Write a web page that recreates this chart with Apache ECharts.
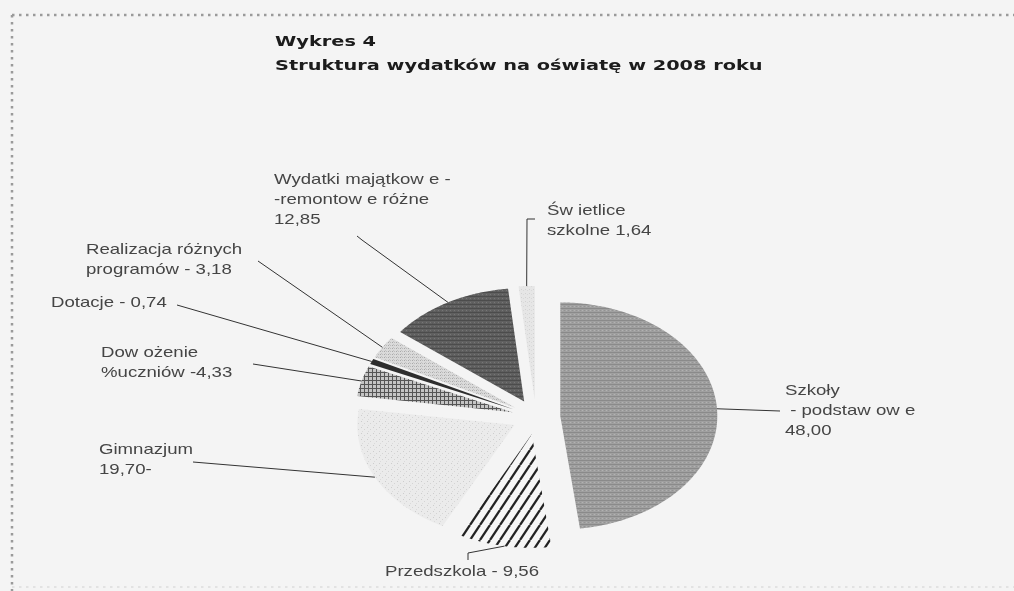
<!DOCTYPE html>
<html>
<head>
<meta charset="utf-8">
<script src="https://cdn.jsdelivr.net/npm/echarts@6/dist/echarts.min.js"></script>
<style>
html,body{margin:0;padding:0;background:#f4f4f4;}
#chart{width:1014px;height:591px;}
</style>
</head>
<body>
<div id="chart"></div>
<script>
// ---- data ----
const categories = ['Szkoły - podstawowe', 'Przedszkola', 'Gimnazjum', 'Dowożenie uczniów', 'Dotacje', 'Realizacja różnych programów', 'Wydatki majątkowe - remontowe różne', 'Świetlice szkolne'];
const values = [48.00, 9.56, 19.70, 4.33, 0.74, 3.18, 12.85, 1.64];
const labelTemplates = [
  'Szkoły\n - podstaw ow e\n{v}',
  'Przedszkola - {v}',
  'Gimnazjum\n{v}-',
  'Dow ożenie\n%uczniów -{v}',
  'Dotacje - {v}',
  'Realizacja różnych\nprogramów - {v}',
  'Wydatki majątkow e -\n-remontow e różne\n{v}',
  'Św ietlice\nszkolne {v}'
];
const titleLines = ['Wykres 4', 'Struktura wydatków na oświatę w 2008 roku'];

// ---- layout / style (pixel positions of labels and leader-line bends) ----
const labelLayout = [
  {x: 785, y: 381, bends: [[780, 411]]},
  {x: 385, y: 562, bends: [[468, 553], [468, 560]]},
  {x: 99,  y: 440, bends: [[193, 462]]},
  {x: 101, y: 343, bends: [[253, 364]]},
  {x: 51,  y: 293, bends: [[177, 305]]},
  {x: 86,  y: 240, bends: [[258, 261]]},
  {x: 274, y: 170, bends: [[362, 240], [357, 236]]},
  {x: 547, y: 201, bends: [[527, 219], [535, 219]]}
];
const EXPLODE = 0.155;

function makePattern(w, h, draw) {
  const c = document.createElement('canvas');
  c.width = w; c.height = h;
  const g = c.getContext('2d');
  draw(g, w, h);
  return {image: c, repeat: 'repeat'};
}
function px(g, x, y, col) { g.fillStyle = col; g.fillRect(x, y, 1, 1); }

const fills = [
  // Szkoły - medium gray fine grid texture
  makePattern(4, 4, function (g) {
    g.fillStyle = '#a0a0a0'; g.fillRect(0, 0, 4, 4);
    g.fillStyle = '#8a8a8a'; g.fillRect(0, 0, 4, 1);
    px(g, 2, 2, '#b2b2b2'); px(g, 0, 2, '#939393');
  }),
  // Przedszkola - diagonal black stripes
  makePattern(10, 15, function (g, w, h) {
    g.fillStyle = '#f6f6f6'; g.fillRect(0, 0, w, h);
    g.strokeStyle = '#222222'; g.lineWidth = 2.3;
    [-1, 0, 1].forEach(function (k) {
      g.beginPath(); g.moveTo(k * w, h); g.lineTo(k * w + w, 0); g.stroke();
    });
  }),
  // Gimnazjum - very light speckled
  makePattern(6, 6, function (g) {
    g.fillStyle = '#ebebeb'; g.fillRect(0, 0, 6, 6);
    px(g, 1, 1, '#cdcdcd'); px(g, 4, 3, '#d4d4d4'); px(g, 2, 5, '#dadada');
  }),
  // Dowożenie - checkered
  makePattern(4, 4, function (g) {
    g.fillStyle = '#c4c4c4'; g.fillRect(0, 0, 4, 4);
    g.fillStyle = '#555555'; g.fillRect(0, 0, 4, 1); g.fillRect(0, 0, 1, 4);
  }),
  // Dotacje - dark
  '#2e2e2e',
  // Realizacja - light dotted
  makePattern(4, 3, function (g) {
    g.fillStyle = '#dadada'; g.fillRect(0, 0, 4, 3);
    px(g, 0, 0, '#a8a8a8'); px(g, 2, 0, '#bcbcbc'); px(g, 1, 2, '#c4c4c4');
  }),
  // Wydatki - dark gray texture
  makePattern(4, 4, function (g) {
    g.fillStyle = '#606060'; g.fillRect(0, 0, 4, 4);
    g.fillStyle = '#4c4c4c'; g.fillRect(0, 0, 4, 1);
    px(g, 2, 2, '#777777'); px(g, 0, 3, '#585858');
  }),
  // Świetlice - very light
  makePattern(4, 4, function (g) {
    g.fillStyle = '#e6e6e6'; g.fillRect(0, 0, 4, 4);
    px(g, 1, 1, '#d2d2d2'); px(g, 3, 2, '#d9d9d9');
  })
];

const total = values.reduce(function (a, b) { return a + b; }, 0);
const cum = [0];
values.forEach(function (v, i) { cum.push(cum[i] + v); });
function fmt(v) { return v.toFixed(2).replace('.', ','); }

function renderItem(params, api) {
  const i = api.value(0);
  const a0 = cum[i] / total * Math.PI * 2;
  const a1 = cum[i + 1] / total * Math.PI * 2;
  const mid = (a0 + a1) / 2;
  const ox = EXPLODE * Math.sin(mid), oy = EXPLODE * Math.cos(mid);
  const pts = [api.coord([ox, oy])];
  const steps = Math.max(2, Math.ceil((a1 - a0) / 0.01));
  for (let s = 0; s <= steps; s++) {
    const t = a0 + (a1 - a0) * s / steps;
    pts.push(api.coord([ox + Math.sin(t), oy + Math.cos(t)]));
  }
  const anchor = api.coord([ox + Math.sin(mid), oy + Math.cos(mid)]);
  const lay = labelLayout[i];
  const linePts = [anchor].concat(lay.bends);
  return {
    type: 'group',
    children: [
      {type: 'polygon', shape: {points: pts}, style: {fill: fills[i], stroke: null}},
      {type: 'polyline', shape: {points: linePts}, style: {stroke: '#333', lineWidth: 1, fill: null}},
      {type: 'text', x: lay.x, y: lay.y, scaleX: 1.24,
        style: {text: labelTemplates[i].replace('{v}', fmt(values[i])), fill: '#454545',
          fontSize: 15, fontFamily: '"Liberation Sans", Arial, sans-serif', lineHeight: 20,
          align: 'left', verticalAlign: 'top'}}
    ]
  };
}

const chart = echarts.init(document.getElementById('chart'));
chart.setOption({
  backgroundColor: '#f4f4f4',
  animation: false,
  grid: {left: 379, top: 303.5, width: 314, height: 227, show: false},
  xAxis: {type: 'value', min: -1, max: 1, show: false},
  yAxis: {type: 'value', min: -1, max: 1, show: false},
  graphic: [
    {type: 'line', shape: {x1: 12, y1: 15, x2: 1014, y2: 15}, style: {stroke: '#9a9a9a', lineWidth: 2.5, lineDash: [2.5, 4.5]}},
    {type: 'line', shape: {x1: 12, y1: 15, x2: 12, y2: 591}, style: {stroke: '#9a9a9a', lineWidth: 2.5, lineDash: [2.5, 4.5]}},
    {type: 'line', shape: {x1: 12, y1: 587, x2: 1014, y2: 587}, style: {stroke: '#e2e2e2', lineWidth: 2, lineDash: [2.5, 4.5]}},
    {type: 'text', x: 275, y: 42, scaleX: 1.38, style: {text: titleLines[0], fill: '#1c1c1c', fontSize: 14, fontWeight: 'bold', fontFamily: '"DejaVu Sans", sans-serif', verticalAlign: 'middle', align: 'left'}},
    {type: 'text', x: 275, y: 66, scaleX: 1.38, style: {text: titleLines[1], fill: '#1c1c1c', fontSize: 14, fontWeight: 'bold', fontFamily: '"DejaVu Sans", sans-serif', verticalAlign: 'middle', align: 'left'}}
  ],
  series: [{
    type: 'custom',
    name: 'Struktura wydatków',
    clip: false,
    renderItem: renderItem,
    data: values.map(function (v, i) { return {name: categories[i], value: [i, v]}; })
  }]
});
</script>
</body>
</html>
